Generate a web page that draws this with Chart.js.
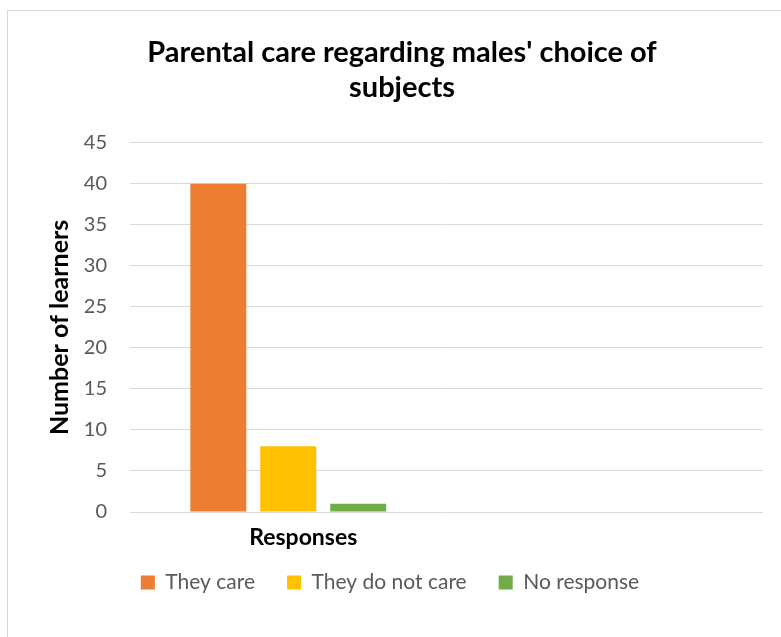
<!DOCTYPE html>
<html>
<head>
<meta charset="utf-8">
<script src="https://cdn.jsdelivr.net/npm/chart.js@4"></script>
<style>
  html, body { margin: 0; padding: 0; background: #fff; }
  #frame { position: absolute; left: 7px; top: 10px; width: 800px; height: 700px; border: 1px solid #d9d9d9; }
  #wrap { position: absolute; left: 0; top: 0; width: 781px; height: 637px; }
</style>
</head>
<body>
<div id="frame"></div>
<div id="wrap"><canvas id="responsesChart"></canvas></div>
<script>
var categories = ['Responses', ''];
var seriesNames = ['They care', 'They do not care', 'No response'];
var theyCare = [40, null];
var theyDoNotCare = [8, null];
var noResponse = [1, null];
var colors = ['#ED7D31', '#FFC000', '#70AD47'];

// nudge the legend up and a little to the left, like the original
var shiftLegend = {
    id: 'shiftLegend',
    afterLayout: function (chart) {
        chart.legend.left -= 24;
        chart.legend.top -= 16;
        chart.legend.bottom -= 16;
    }
};

var ctx = document.getElementById('responsesChart').getContext('2d');
new Chart(ctx, {
    type: 'bar',
    data: {
        labels: categories,
        datasets: [
            { label: seriesNames[0], data: theyCare, backgroundColor: colors[0] },
            { label: seriesNames[1], data: theyDoNotCare, backgroundColor: colors[1] },
            { label: seriesNames[2], data: noResponse, backgroundColor: colors[2] }
        ]
    },
    plugins: [shiftLegend],
    options: {
        responsive: true,
        maintainAspectRatio: false,
        animation: false,
        layout: { padding: { left: 41, right: 18, top: 0, bottom: 18 } },
        datasets: { bar: { barPercentage: 0.8, categoryPercentage: 0.663 } },
        plugins: {
            title: {
                display: true,
                text: ["Parental care regarding males' choice of", 'subjects'],
                color: '#000',
                font: { family: 'Lato', size: 29, weight: 'bold', lineHeight: 1.22 },
                padding: { top: 35, bottom: 37 }
            },
            legend: {
                position: 'bottom',
                labels: {
                    boxWidth: 14, boxHeight: 14, padding: 32,
                    color: '#595959',
                    font: { family: 'Lato', size: 21 }
                }
            },
            tooltip: { enabled: false }
        },
        scales: {
            x: {
                grid: { display: false },
                border: { display: false },
                ticks: {
                    color: '#000', font: { family: 'Lato', size: 23, weight: 'bold' },
                    padding: 4, maxRotation: 0, minRotation: 0, autoSkip: false, labelOffset: 15
                },
                afterFit: function (s) { s.height = 44; }
            },
            y: {
                min: 0, max: 45,
                ticks: { stepSize: 5, color: '#595959', font: { family: 'Lato', size: 20 }, padding: 23 },
                grid: { color: '#d9d9d9', drawTicks: false },
                border: { display: false },
                title: {
                    display: true, text: 'Number of learners', color: '#000',
                    font: { family: 'Lato', size: 25, weight: 'bold' }
                },
                afterFit: function (s) { s.width = 89; }
            }
        }
    }
});
</script>
</body>
</html>
